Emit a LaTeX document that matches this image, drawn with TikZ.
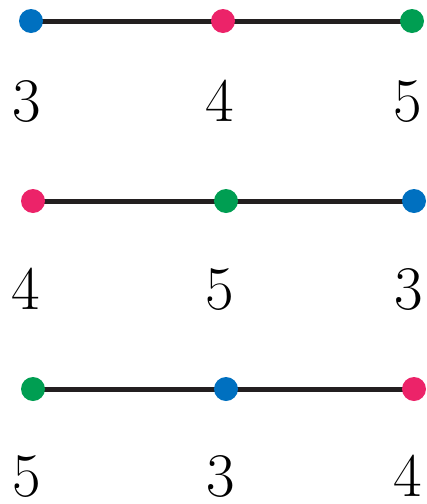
\documentclass[tikz,border=0pt]{standalone}
\usepackage{tikz}
\usetikzlibrary{backgrounds}
\definecolor{vblue}{HTML}{0070C0}
\definecolor{vpink}{HTML}{EC2369}
\definecolor{vgreen}{HTML}{009E52}
\definecolor{edgec}{HTML}{231F20}
\tikzset{
  vtx/.style={circle,inner sep=0pt,minimum size=24pt},
  bvtx/.style={vtx,fill=vblue},
  pvtx/.style={vtx,fill=vpink},
  gvtx/.style={vtx,fill=vgreen},
  edge/.style={draw=edgec,line width=5pt},
  num/.style={anchor=base,inner sep=0pt,font=\fontsize{62}{70}\selectfont},
}
\begin{document}
\begin{tikzpicture}[x=1pt,y=1pt]
\useasboundingbox (0,0) rectangle (427,-504);
% first path
\node[bvtx] (a1) at (31,-21) {};
\node[pvtx] (b1) at (223,-21) {};
\node[gvtx] (c1) at (412,-21) {};
\node[num] (la1) at (27,-121) {3};
\node[num] (lb1) at (220,-121) {4};
\node[num] (lc1) at (408,-121) {5};
% second path
\node[pvtx] (a2) at (33,-201) {};
\node[gvtx] (b2) at (226,-201) {};
\node[bvtx] (c2) at (414,-201) {};
\node[num] (la2) at (26,-309) {4};
\node[num] (lb2) at (220,-309) {5};
\node[num] (lc2) at (409,-309) {3};
% third path
\node[gvtx] (a3) at (33,-389) {};
\node[bvtx] (b3) at (226,-389) {};
\node[pvtx] (c3) at (414,-389) {};
\node[num] (la3) at (27,-496) {5};
\node[num] (lb3) at (221,-496) {3};
\node[num] (lc3) at (408,-496) {4};
\begin{scope}[on background layer]
\draw[edge] (a1.center)--(b1.center)--(c1.center);
\draw[edge] (a2.center)--(b2.center)--(c2.center);
\draw[edge] (a3.center)--(b3.center)--(c3.center);
\end{scope}
\end{tikzpicture}
\end{document}
